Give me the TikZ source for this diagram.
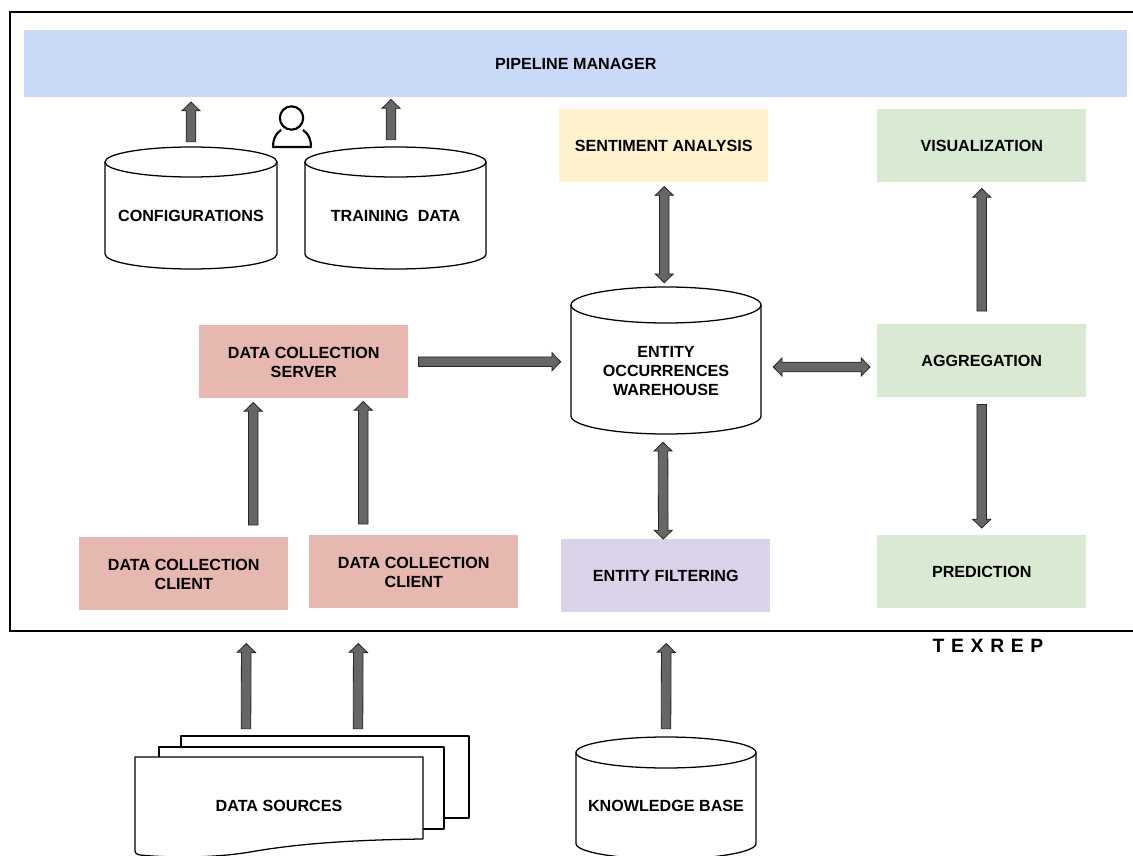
\documentclass[tikz,border=0pt]{standalone}
\usepackage{fontspec}
\setmainfont{Liberation Sans}
\usetikzlibrary{calc}
\definecolor{pmblue}{HTML}{C9DAF8}
\definecolor{sentyellow}{HTML}{FFF2CC}
\definecolor{boxgreen}{HTML}{D9EAD3}
\definecolor{boxpurple}{HTML}{D9D2E9}
\definecolor{boxred}{HTML}{E6B8AF}
\definecolor{arrowgray}{HTML}{666666}
\newcommand{\cyl}[7]{% name, x1, x2, top, ry, bottom, text
  \pgfmathsetmacro{\cylcx}{(#2+#3)/2}
  \pgfmathsetmacro{\cylrx}{(#3-#2)/2*0.75}
  \pgfmathsetmacro{\cylry}{#5*0.75}
  \pgfmathsetmacro{\cylya}{#4+#5}
  \pgfmathsetmacro{\cylyb}{#6-#5}
  \pgfmathsetmacro{\cylw}{(#3-#2)*0.75}
  \pgfmathsetmacro{\cylh}{(#6-\cylya)*0.75}
  \pgfmathsetmacro{\cylcy}{(\cylya+#6)/2}
  \draw[outl,fill=white] (#2,\cylya) -- (#2,\cylyb) arc[start angle=180,delta angle=180,x radius=\cylrx pt,y radius=\cylry pt] -- (#3,\cylya);
  \draw[outl] (\cylcx,\cylya) ellipse[x radius=\cylrx pt,y radius=\cylry pt];
  \node[lab,minimum width=\cylw pt,minimum height=\cylh pt,inner sep=0pt] (#1) at (\cylcx,\cylcy) {#7};
}
\tikzset{
  x=0.75pt,y=-0.75pt,
  outl/.style={draw=black,line width=0.95pt,line join=round},
  lab/.style={font=\fontsize{12.1}{14.25}\selectfont\bfseries,align=center,text=black},
  boxn/.style={lab,anchor=north west,inner sep=0pt,minimum width=156.75pt,minimum height=54.75pt},
  barrow/.style={draw=black!85,fill=arrowgray,line width=0.6pt,line join=miter,
    to path={
      -- ($(\tikztostart)!3.6pt!90:(\tikztotarget)$)
      -- ($($(\tikztotarget)!6.6pt!(\tikztostart)$)!3.6pt!90:(\tikztotarget)$)
      -- ($($(\tikztotarget)!6.6pt!(\tikztostart)$)!6.8pt!90:(\tikztotarget)$)
      -- (\tikztotarget)
      -- ($($(\tikztotarget)!6.6pt!(\tikztostart)$)!6.8pt!-90:(\tikztotarget)$)
      -- ($($(\tikztotarget)!6.6pt!(\tikztostart)$)!3.6pt!-90:(\tikztotarget)$)
      -- ($(\tikztostart)!3.6pt!-90:(\tikztotarget)$)
      -- cycle}},
  bdouble/.style={draw=black!85,fill=arrowgray,line width=0.6pt,line join=miter,
    to path={
      -- ($($(\tikztostart)!6.6pt!(\tikztotarget)$)!6.8pt!90:(\tikztotarget)$)
      -- ($($(\tikztostart)!6.6pt!(\tikztotarget)$)!3.6pt!90:(\tikztotarget)$)
      -- ($($(\tikztotarget)!6.6pt!(\tikztostart)$)!3.6pt!90:(\tikztotarget)$)
      -- ($($(\tikztotarget)!6.6pt!(\tikztostart)$)!6.8pt!90:(\tikztotarget)$)
      -- (\tikztotarget)
      -- ($($(\tikztotarget)!6.6pt!(\tikztostart)$)!6.8pt!-90:(\tikztotarget)$)
      -- ($($(\tikztotarget)!6.6pt!(\tikztostart)$)!3.6pt!-90:(\tikztotarget)$)
      -- ($($(\tikztostart)!6.6pt!(\tikztotarget)$)!3.6pt!-90:(\tikztotarget)$)
      -- ($($(\tikztostart)!6.6pt!(\tikztotarget)$)!6.8pt!-90:(\tikztotarget)$)
      -- cycle}},
}
\begin{document}
\begin{tikzpicture}
\useasboundingbox (0,0) rectangle (1133,856);
% frame, open at the right edge
\draw[draw=black,line width=0.95pt] (1133,12) -- (10,12) -- (10,631) -- (1133,631);
% boxes
\node[boxn,fill=pmblue,minimum width=827.25pt,minimum height=50.25pt] (pm) at (24,30) {PIPELINE MANAGER};
\node[boxn,fill=sentyellow] (sent) at (559,109) {SENTIMENT ANALYSIS};
\node[boxn,fill=boxgreen] (vis) at (877,109) {VISUALIZATION};
\node[boxn,fill=boxgreen] (agg) at (877,324) {AGGREGATION};
\node[boxn,fill=boxgreen] (pred) at (877,535) {PREDICTION};
\node[boxn,fill=boxpurple] (filt) at (561,539) {ENTITY FILTERING};
\node[boxn,fill=boxred] (srv) at (199,325) {\rule{0pt}{10.2pt}DATA COLLECTION\\SERVER};
\node[boxn,fill=boxred] (cl1) at (79,537) {\rule{0pt}{10.2pt}DATA COLLECTION\\CLIENT};
\node[boxn,fill=boxred] (cl2) at (309,535) {\rule{0pt}{10.2pt}DATA COLLECTION\\CLIENT};
% cylinders
\cyl{cfg}{105}{277}{147}{15}{269}{CONFIGURATIONS}
\cyl{train}{305}{486}{147}{15}{269}{TRAINING\ \ DATA}
\cyl{ware}{571}{761}{287}{18}{434}{\rule{0pt}{11pt}ENTITY\\OCCURRENCES\\WAREHOUSE}
\cyl{kb}{576}{756}{737}{15.5}{859}{KNOWLEDGE BASE}
% stacked documents
\draw[outl,fill=white] (181,736) -- (469,736) -- (469,818) -- (440,818) -- (181,818) -- cycle;
\draw[outl,fill=white] (159,747) -- (444,747) -- (444,829) -- (159,829) -- cycle;
\draw[outl,fill=white] (135,757) -- (423,757) -- (423,839)
  .. controls (340,840) and (290,845) .. (250,852)
  .. controls (215,858) and (170,858) .. (140,855)
  .. controls (136,854) and (135,853) .. (135,851) -- cycle;
\node[lab,inner sep=0pt,minimum width=216pt,minimum height=61.5pt] (ds) at (279,806) {DATA SOURCES};
% user icon
\node[circle,draw=black,line width=1.6pt,fill=white,minimum size=17.5pt,inner sep=0pt] (user) at (291.5,118) {};
\draw[draw=black,line width=1.6pt,line join=round] (281,130) .. controls (275,134) and (273,140) .. (273,147) -- (311,147) .. controls (311,140) and (309,134) .. (303,130);
% connectors
\draw[barrow] ([shift={(0,-20)}]cfg.north) to ([shift={(0,4.5)}]pm.south -| cfg.north);
\draw[barrow] ([shift={(-4.5,-22)}]train.north) to ([shift={(-4.5,2)}]pm.south -| train.north);
\draw[bdouble] ([shift={(0.5,4)}]sent.south) to ([shift={(0.5,-22)}]ware.north -| sent.south);
\draw[barrow] ([shift={(0,-13)}]agg.north) to ([shift={(0,6)}]vis.south);
\draw[barrow] ([shift={(0,7)}]agg.south) to ([shift={(0,-7)}]pred.north);
\draw[barrow] ([shift={(10,0)}]srv.east) to ([shift={(-10,0)}]ware.west |- srv.east);
\draw[bdouble] ([shift={(12,-2.5)}]ware.east) to ([shift={(-7,-2.5)}]agg.west |- ware.east);
\draw[barrow] ([shift={(69.5,-12)}]cl1.north) to ([shift={(-50.5,4)}]srv.south);
\draw[barrow] ([shift={(-50.5,-11)}]cl2.north) to ([shift={(59.5,3)}]srv.south);
\draw[bdouble] ([shift={(-3,8)}]ware.south) to ([shift={(-2.5,0)}]filt.north);
\draw[barrow] ([shift={(-33,-36)}]ds.north) to ([shift={(62.5,33)}]cl1.south);
\draw[barrow] ([shift={(79,-36)}]ds.north) to ([shift={(-55.5,35)}]cl2.south);
\draw[barrow] ([shift={(0,-23.5)}]kb.north) to ([shift={(0.5,31)}]filt.south);
\node[lab,font=\fontsize{14.5}{16}\selectfont\bfseries,inner sep=0pt] (tx) at (988,646) {T\hspace{5pt}E\hspace{5pt}X\hspace{5pt}R\hspace{5pt}E\hspace{5pt}P};
\end{tikzpicture}
\end{document}
